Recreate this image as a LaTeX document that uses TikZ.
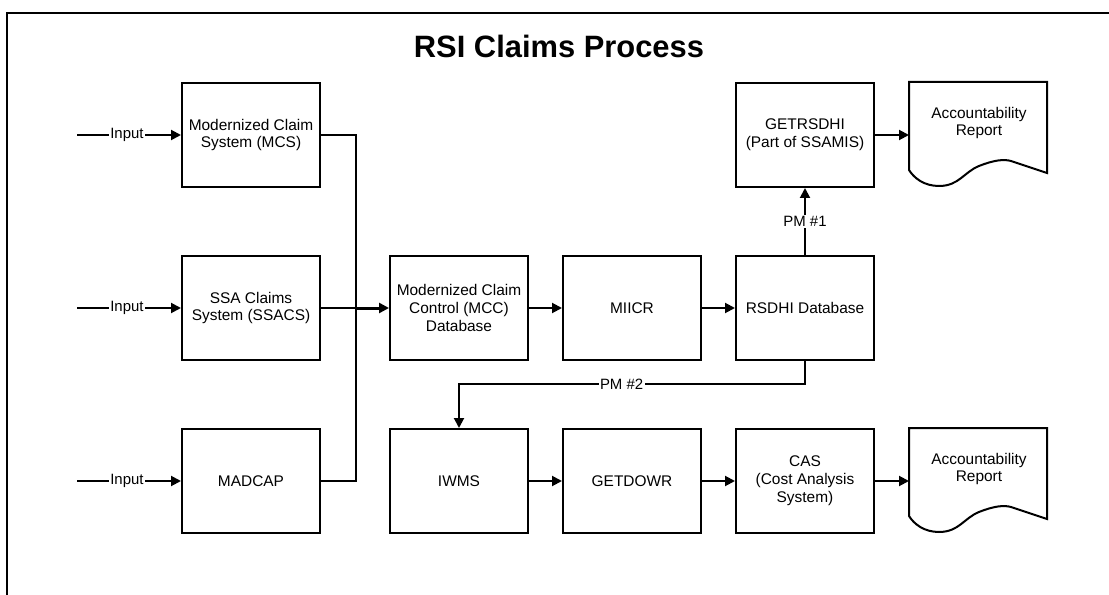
\documentclass[tikz,border=0pt]{standalone}
\usepackage{fontspec}
\setmainfont{Liberation Sans}
\usetikzlibrary{arrows.meta,calc}
\begin{document}
\begin{tikzpicture}[x=1bp,y=-1bp,
  line width=2bp,
  box/.style={draw,line width=2bp,minimum width=138bp,minimum height=104bp,inner sep=0pt,align=center,font=\fontsize{15.5}{18}\selectfont},
  ghost/.style={minimum width=138bp,minimum height=104bp,inner sep=0pt},
  rtext/.style={align=center,font=\fontsize{15.5}{18}\selectfont,inner sep=0pt},
  lbl/.style={fill=white,inner sep=1.5bp,font=\fontsize{15}{17}\selectfont},
  arr/.style={-{Triangle[length=10bp,width=10bp]},line width=2bp},
  ln/.style={line width=2bp}]
\useasboundingbox (0,0) rectangle (1109,595);
% frame
\draw[line width=2.5bp] (7,595) -- (7,13) -- (1109,13);
% title
\node[font=\fontsize{31}{36}\selectfont\bfseries] (title) at (559,46) {RSI Claims Process};
% boxes
\node[box] (mcs) at (251,135) {Modernized Claim\\System (MCS)};
\node[box] (ssa) at (251,308) {SSA Claims\\System (SSACS)};
\node[box] (mad) at (251,481) {MADCAP};
\node[box] (mcc) at (459,308) {Modernized Claim\\Control (MCC)\\Database};
\node[box] (mii) at (632,308) {MIICR};
\node[box] (rsd) at (805,308) {RSDHI Database};
\node[box] (get) at (805,135) {GETRSDHI\\(Part of SSAMIS)};
\node[box] (iwm) at (459,481) {IWMS};
\node[box] (gdw) at (632,481) {GETDOWR};
\node[box] (cas) at (805,481) {CAS\\(Cost Analysis\\System)};
% reports
\node[ghost] (rep1) at (979,135) {};
\node[ghost] (rep2) at (979,481) {};
\foreach \r in {rep1,rep2}{
  \begin{scope}[shift={(\r.north west)}]
    \draw[line width=2bp,line join=miter] (0,88) -- (0,0) -- (138,0) -- (138,91) -- (102,79)
      .. controls (95,77) and (85,78) .. (70,84)
      .. controls (55,90) and (50,104) .. (30,104)
      .. controls (15,104) and (5,96) .. (0,88) -- cycle;
  \end{scope}
}
\node[rtext] (rt1) at (979,123) {Accountability\\Report};
\node[rtext] (rt2) at (979,469) {Accountability\\Report};
% inputs
\coordinate (in1) at (77,135);
\coordinate (in2) at (77,308);
\coordinate (in3) at (77,481);
\draw[arr] (in1) -- node[lbl,pos=0.48] {Input} (mcs.west);
\draw[arr] (in2) -- node[lbl,pos=0.48] {Input} (ssa.west);
\draw[arr] (in3) -- node[lbl,pos=0.48] {Input} (mad.west);
% bus
\coordinate (bus) at (356,308);
\draw[ln] (mcs.east) -| (bus);
\draw[ln] (mad.east) -| (bus);
\draw[ln] (ssa.east) -- (bus);
\draw[arr,line width=3bp] (bus) -- (mcc.west);
% main flow
\draw[arr] (mcc) -- (mii);
\draw[arr] (mii) -- (rsd);
\draw[arr] (rsd) -- node[lbl] {PM \#1} (get);
\draw[arr] (get) -- (rep1.west);
\coordinate (pm2a) at (805,384);
\coordinate (pm2b) at (459,384);
\draw[arr] (rsd.south) -- (pm2a) -- node[lbl,pos=0.53] {PM \#2} (pm2b) -- (iwm.north);
\draw[arr] (iwm) -- (gdw);
\draw[arr] (gdw) -- (cas);
\draw[arr] (cas) -- (rep2.west);
\end{tikzpicture}
\end{document}
